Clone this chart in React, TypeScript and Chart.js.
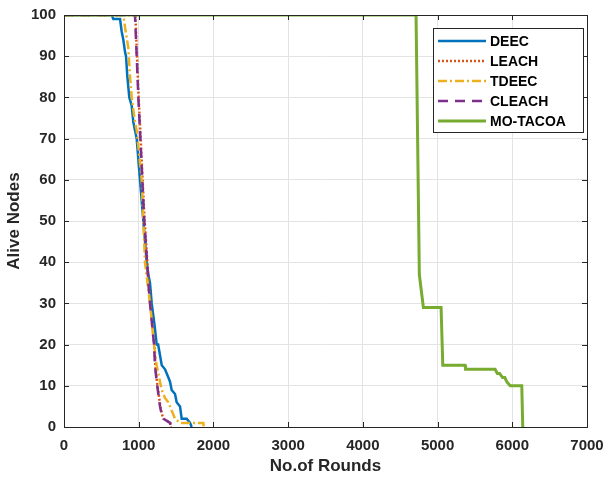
import React, { useEffect, useRef } from "react";
import { Chart, registerables } from "chart.js";

Chart.register(...registerables);

const X_TICKS = [0, 1000, 2000, 3000, 4000, 5000, 6000, 7000];
const Y_TICKS = [0, 10, 20, 30, 40, 50, 60, 70, 80, 90, 100];

const SERIES_NAMES = ["DEEC", "LEACH", "TDEEC", "CLEACH", "MO-TACOA"];

const DEEC_X = [0, 640, 660, 750, 772, 794, 817, 830, 848, 874, 906, 928, 950, 973, 1017, 1062, 1107, 1129, 1151, 1174, 1210, 1241, 1260, 1308, 1352, 1397, 1419, 1441, 1486, 1508, 1553, 1575, 1642, 1687, 1709];
const DEEC_Y = [100, 100, 99, 99, 96, 94, 91, 90, 85, 80, 78, 74, 72, 70, 60, 50, 40, 37, 35, 30, 25, 20, 20, 15, 14, 12, 11, 9, 8, 6, 5, 2, 2, 1, 0];

const LEACH_X = [0, 955, 977, 999, 1021, 1052, 1079, 1098, 1133, 1155, 1209, 1222, 1244, 1267, 1289, 1312, 1334, 1423, 1431];
const LEACH_Y = [100, 100, 90, 80, 72, 60, 50, 45, 35, 30, 20, 15, 11, 8, 5, 3, 2, 1, 0];

const TDEEC_X = [0, 794, 817, 861, 884, 906, 950, 973, 1040, 1062, 1084, 1151, 1205, 1240, 1285, 1308, 1352, 1397, 1441, 1486, 1553, 1642, 1865, 1870];
const TDEEC_Y = [100, 100, 97, 92, 85, 80, 74, 72, 60, 50, 40, 30, 20, 15, 11, 9, 7, 6, 4, 2, 1, 1, 1, 0];

const CLEACH_X = [0, 950, 973, 995, 1017, 1048, 1075, 1094, 1129, 1151, 1205, 1218, 1240, 1263, 1285, 1308, 1330, 1419, 1427];
const CLEACH_Y = [100, 100, 90, 80, 72, 60, 50, 45, 35, 30, 20, 15, 11, 8, 5, 3, 2, 1, 0];

const MOTACOA_X = [0, 4712, 4756, 4810, 5047, 5070, 5368, 5375, 5770, 5800, 5830, 5870, 5900, 5926, 5971, 6127, 6140];
const MOTACOA_Y = [100, 100, 37, 29, 29, 15, 15, 14, 14, 13, 13, 12, 12, 11, 10, 10, 0];

const toPoints = (xs: number[], ys: number[]) => xs.map((x, i) => ({ x, y: ys[i] }));

const AXIS_COLOR = "#262626";
const FONT = "'Liberation Sans', Arial, sans-serif";

const frameAndLegend = {
  id: "frameAndLegend",
  afterDatasetsDraw(chart: any) {
    const { ctx, chartArea: ca, scales } = chart;
    ctx.save();
    ctx.strokeStyle = AXIS_COLOR;
    ctx.lineWidth = 1;
    ctx.setLineDash([]);
    ctx.strokeRect(Math.round(ca.left) + 0.5, Math.round(ca.top) + 0.5, Math.round(ca.right - ca.left), Math.round(ca.bottom - ca.top));
    const tl = 5;
    ctx.beginPath();
    X_TICKS.forEach((v) => {
      const px = Math.round(scales.x.getPixelForValue(v)) + 0.5;
      ctx.moveTo(px, ca.bottom);
      ctx.lineTo(px, ca.bottom - tl);
      ctx.moveTo(px, ca.top);
      ctx.lineTo(px, ca.top + tl);
    });
    Y_TICKS.forEach((v) => {
      const py = Math.round(scales.y.getPixelForValue(v)) + 0.5;
      ctx.moveTo(ca.left, py);
      ctx.lineTo(ca.left + tl, py);
      ctx.moveTo(ca.right, py);
      ctx.lineTo(ca.right - tl, py);
    });
    ctx.stroke();

    const bx = ca.right - 154;
    const by = ca.top + 13;
    const bw = 150;
    const bh = 104;
    ctx.fillStyle = "#ffffff";
    ctx.fillRect(bx, by, bw, bh);
    ctx.strokeStyle = AXIS_COLOR;
    ctx.lineWidth = 1;
    ctx.strokeRect(Math.round(bx) + 0.5, Math.round(by) + 0.5, bw, bh);
    chart.data.datasets.forEach((ds: any, i: number) => {
      const y = by + 13 + i * 20;
      ctx.beginPath();
      ctx.strokeStyle = ds.borderColor;
      ctx.lineWidth = ds.borderWidth;
      ctx.setLineDash(ds.borderDash || []);
      ctx.moveTo(bx + 5, y);
      ctx.lineTo(bx + 53, y);
      ctx.stroke();
      ctx.setLineDash([]);
      ctx.fillStyle = "#000000";
      ctx.font = `bold 14px ${FONT}`;
      ctx.textBaseline = "middle";
      ctx.textAlign = "left";
      ctx.fillText(ds.label, bx + 57, y + 1);
    });
    ctx.restore();
  },
};

export default function App() {
  const canvasRef = useRef<HTMLCanvasElement | null>(null);

  useEffect(() => {
    document.body.style.margin = "0";
    const canvas = canvasRef.current;
    if (!canvas) return;
    const common = { pointRadius: 0, tension: 0, fill: false, borderCapStyle: "butt" as const };
    const chart = new Chart(canvas, {
      type: "line",
      data: {
        datasets: [
          { ...common, label: SERIES_NAMES[0], data: toPoints(DEEC_X, DEEC_Y), borderColor: "#0072BD", borderWidth: 2.5, order: 5 },
          { ...common, label: SERIES_NAMES[1], data: toPoints(LEACH_X, LEACH_Y), borderColor: "#D95319", borderWidth: 2.5, borderDash: [2, 2], order: 4 },
          { ...common, label: SERIES_NAMES[2], data: toPoints(TDEEC_X, TDEEC_Y), borderColor: "#EDB120", borderWidth: 2.5, borderDash: [9, 3, 2, 3], order: 3 },
          { ...common, label: SERIES_NAMES[3], data: toPoints(CLEACH_X, CLEACH_Y), borderColor: "#7E2F8E", borderWidth: 2.5, borderDash: [10, 7], order: 2 },
          { ...common, label: SERIES_NAMES[4], data: toPoints(MOTACOA_X, MOTACOA_Y), borderColor: "#77AC30", borderWidth: 3, order: 1 },
        ],
      },
      options: {
        animation: false,
        responsive: false,
        maintainAspectRatio: false,
        devicePixelRatio: 1,
        layout: { padding: { top: 15, right: 17, left: 0, bottom: 0 } },
        plugins: { legend: { display: false }, tooltip: { enabled: false } },
        scales: {
          x: {
            type: "linear",
            min: 0,
            max: 7000,
            afterBuildTicks: (scale: any) => {
              scale.ticks = X_TICKS.map((v) => ({ value: v }));
            },
            afterFit: (scale: any) => {
              scale.height = 50;
              scale.paddingLeft = 0;
              scale.paddingRight = 0;
            },
            ticks: {
              color: AXIS_COLOR,
              font: { family: FONT, size: 15, weight: "bold" },
              padding: 10,
              maxRotation: 0,
              autoSkip: false,
              callback: (v: any) => String(v),
            },
            grid: { color: "#e3e3e3", drawTicks: false, lineWidth: 1 },
            border: { display: false },
            title: {
              display: true,
              text: "No.of Rounds",
              color: AXIS_COLOR,
              font: { family: FONT, size: 17, weight: "bold" },
              padding: { top: 0, bottom: 0 },
            },
          },
          y: {
            type: "linear",
            min: 0,
            max: 100,
            afterBuildTicks: (scale: any) => {
              scale.ticks = Y_TICKS.map((v) => ({ value: v }));
            },
            afterFit: (scale: any) => {
              scale.width = 64;
              scale.paddingTop = 0;
              scale.paddingBottom = 0;
            },
            ticks: {
              color: AXIS_COLOR,
              font: { family: FONT, size: 15, weight: "bold" },
              padding: 8,
              autoSkip: false,
              callback: (v: any) => String(v),
            },
            grid: { color: "#e3e3e3", drawTicks: false, lineWidth: 1 },
            border: { display: false },
            title: {
              display: true,
              text: "Alive Nodes",
              color: AXIS_COLOR,
              font: { family: FONT, size: 17, weight: "bold" },
              padding: { top: 4, bottom: 0 },
            },
          },
        },
      },
      plugins: [frameAndLegend],
    });
    return () => chart.destroy();
  }, []);

  return (
    <div style={{ width: 604, height: 477, background: "#ffffff" }}>
      <canvas ref={canvasRef} width={604} height={477} style={{ display: "block", width: 604, height: 477 }} />
    </div>
  );
}
